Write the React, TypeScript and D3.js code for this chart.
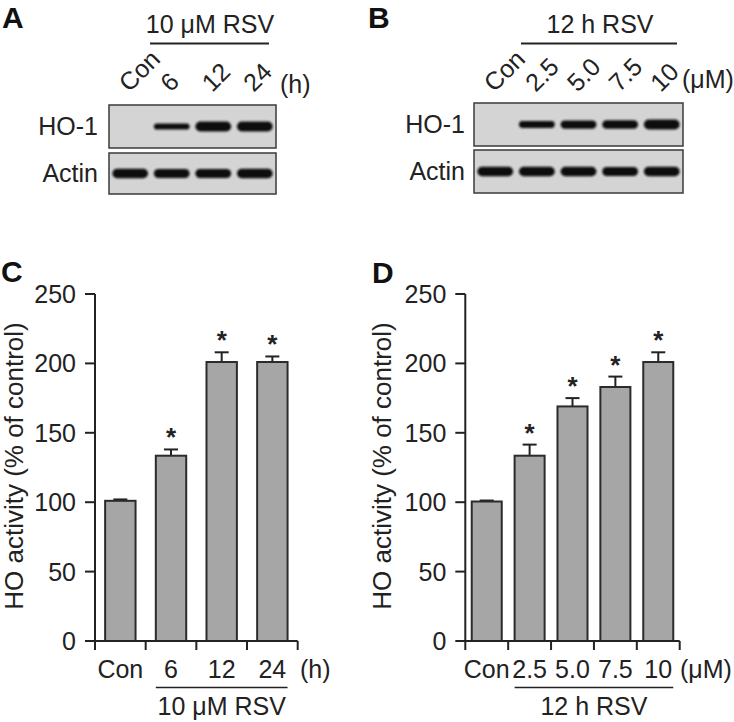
import React from "react";
import * as d3 from "d3";

// ---------- Data ----------
const timeLanes = ["Con", "6", "12", "24"];
const doseLanes = ["Con", "2.5", "5.0", "7.5", "10"];

// Western blot band intensities (0 = none, 1 = strongest)
const blotA_HO1 = [0, 0.45, 1, 1];
const blotA_Actin = [0.9, 0.85, 0.85, 0.9];
const blotB_HO1 = [0, 0.55, 0.75, 0.8, 1];
const blotB_Actin = [0.9, 0.9, 0.9, 0.85, 0.9];

// HO activity (% of control)
const activityTime = [101, 133.5, 201, 201];
const activityTimeErr = [1, 4.5, 7, 4];
const activityTimeSig = [false, true, true, true];

const activityDose = [100.5, 133.5, 169, 183, 201];
const activityDoseErr = [0.7, 8, 6, 7.5, 7];
const activityDoseSig = [false, true, true, true, true];

const yTicks = [0, 50, 100, 150, 200, 250];

const FONT = "'Liberation Sans', Arial, Helvetica, sans-serif";
const INK = "#222";

// ---------- Blot ----------
function Blot({ x0, x1, y0, y1, vals, label, labelX, maxThick, minThick }) {
  const lane = d3.scaleBand<number>().domain(d3.range(vals.length)).range([x0, x1]).paddingInner(0.14).paddingOuter(0.08);
  const cy = (y0 + y1) / 2;
  return (
    <g>
      <rect x={x0} y={y0} width={x1 - x0} height={y1 - y0} fill="#d4d4d4" stroke="#3a3a3a" strokeWidth={1.5} />
      {vals.map((v, i) => {
        if (v <= 0) return null;
        const th = minThick + (maxThick - minThick) * v;
        return (
          <rect
            key={i}
            x={lane(i)}
            y={cy - th / 2}
            width={lane.bandwidth()}
            height={th}
            rx={th / 2}
            fill="#111"
            filter="url(#bandBlur)"
          />
        );
      })}
      <text x={labelX} y={cy} dy="0.35em" textAnchor="end" fontSize={25} fill={INK} fontFamily={FONT}>
        {label}
      </text>
    </g>
  );
}

function LaneLabels({ x0, x1, n, labels, unit, unitX, unitY }) {
  const lane = d3.scaleBand<number>().domain(d3.range(n)).range([x0, x1]).paddingInner(0.14).paddingOuter(0.08);
  return (
    <g fontFamily={FONT} fontSize={25} fill={INK}>
      {labels.map((l, i) => {
        const cx = (lane(i) as number) + lane.bandwidth() / 2 - 1;
        return (
          <text key={i} transform={`translate(${cx},93) rotate(-45)`}>
            {l}
          </text>
        );
      })}
      <text x={unitX} y={unitY} fontSize={25}>
        {unit}
      </text>
    </g>
  );
}

// ---------- Bar panel ----------
function BarPanel({ axisX, axisEnd, cats, vals, errs, sig, pad, unit, unitX, groupLabel, title, titleX }) {
  const y = d3.scaleLinear().domain([0, 250]).range([641, 294]);
  const x = d3.scaleBand<string>().domain(cats).range([axisX, axisEnd]).paddingInner(pad).paddingOuter(pad / 2);
  const step = x.step();
  const bw = x.bandwidth();
  const y0 = y(0);
  const firstTreated = x(cats[1]) as number;
  const lastTreated = (x(cats[cats.length - 1]) as number) + bw;
  return (
    <g fontFamily={FONT} fill={INK}>
      {cats.map((c, i) => {
        const bx = x(c) as number;
        const top = y(vals[i]);
        const et = y(vals[i] + errs[i]);
        const cx = bx + bw / 2;
        return (
          <g key={c}>
            <line x1={cx} x2={cx} y1={top} y2={et} stroke={INK} strokeWidth={2} />
            <line x1={cx - 7} x2={cx + 7} y1={et} y2={et} stroke={INK} strokeWidth={2} />
            <rect x={bx} y={top} width={bw} height={y0 - top} fill="#a6a6a6" stroke="#2b2b2b" strokeWidth={2} />
            {sig[i] && (
              <text x={cx} y={et - 3} textAnchor="middle" fontSize={26} fontWeight="bold">
                *
              </text>
            )}
            <text x={cx} y={678} textAnchor="middle" fontSize={25}>
              {c}
            </text>
          </g>
        );
      })}
      <line x1={axisX} x2={axisX} y1={y(250)} y2={y0} stroke={INK} strokeWidth={2} />
      {yTicks.map((t) => (
        <g key={t}>
          <line x1={axisX - 10} x2={axisX} y1={y(t)} y2={y(t)} stroke={INK} strokeWidth={2} />
          <text x={axisX - 19} y={y(t)} dy="0.36em" textAnchor="end" fontSize={25}>
            {t}
          </text>
        </g>
      ))}
      <line x1={axisX - 1} x2={axisEnd} y1={y0} y2={y0} stroke={INK} strokeWidth={2} />
      {d3.range(cats.length + 1).map((i) => (
        <line key={i} x1={axisX + i * step} x2={axisX + i * step} y1={y0} y2={y0 + 9} stroke={INK} strokeWidth={2} />
      ))}
      <text x={unitX} y={678} fontSize={25}>
        {unit}
      </text>
      <line x1={firstTreated} x2={lastTreated} y1={687.5} y2={687.5} stroke={INK} strokeWidth={1.5} />
      <text x={(firstTreated + lastTreated) / 2} y={715} textAnchor="middle" fontSize={25}>
        {groupLabel}
      </text>
      <text transform={`translate(${titleX},466) rotate(-90)`} dy="0.35em" textAnchor="middle" fontSize={26}>
        {title}
      </text>
    </g>
  );
}

export default function App() {
  return (
    <div style={{ position: "absolute", left: 0, top: 0 }}>
      <svg width={734} height={722} style={{ display: "block", background: "#fff" }}>
        <defs>
          <filter id="bandBlur" x="-20%" y="-100%" width="140%" height="300%">
            <feGaussianBlur stdDeviation="1.1" />
          </filter>
        </defs>
        <g fontFamily={FONT} fontWeight="bold" fontSize={30} fill="#111">
          <text x={2} y={28}>A</text>
          <text x={368} y={28}>B</text>
          <text x={1} y={282}>C</text>
          <text x={372} y={283}>D</text>
        </g>

        {/* Panel A */}
        <g fontFamily={FONT} fill={INK}>
          <text x={210} y={33} textAnchor="middle" fontSize={25}>10 μM RSV</text>
          <line x1={150} x2={269} y1={43.5} y2={43.5} stroke={INK} strokeWidth={1.8} />
        </g>
        <LaneLabels x0={109} x1={276} n={4} labels={timeLanes} unit="(h)" unitX={280} unitY={93} />
        <Blot x0={109} x1={276} y0={105} y1={148} vals={blotA_HO1} label="HO-1" labelX={98} maxThick={10} minThick={3} />
        <Blot x0={109} x1={276} y0={153} y1={194} vals={blotA_Actin} label="Actin" labelX={98} maxThick={10} minThick={3} />

        {/* Panel B */}
        <g fontFamily={FONT} fill={INK}>
          <text x={600} y={33} textAnchor="middle" fontSize={25}>12 h RSV</text>
          <line x1={521} x2={677} y1={43.5} y2={43.5} stroke={INK} strokeWidth={1.8} />
        </g>
        <LaneLabels x0={474} x1={683} n={5} labels={doseLanes} unit="(μM)" unitX={682} unitY={88} />
        <Blot x0={474} x1={683} y0={103} y1={146} vals={blotB_HO1} label="HO-1" labelX={465} maxThick={10} minThick={3} />
        <Blot x0={474} x1={683} y0={150} y1={193} vals={blotB_Actin} label="Actin" labelX={465} maxThick={10} minThick={3} />

        {/* Panel C */}
        <BarPanel
          axisX={95}
          axisEnd={297.7}
          cats={timeLanes}
          vals={activityTime}
          errs={activityTimeErr}
          sig={activityTimeSig}
          pad={0.4}
          unit="(h)"
          unitX={300}
          groupLabel="10 μM RSV"
          title="HO activity (% of control)"
          titleX={14}
        />
        {/* Panel D */}
        <BarPanel
          axisX={465.3}
          axisEnd={679.7}
          cats={doseLanes}
          vals={activityDose}
          errs={activityDoseErr}
          sig={activityDoseSig}
          pad={0.3}
          unit="(μM)"
          unitX={680}
          groupLabel="12 h RSV"
          title="HO activity (% of control)"
          titleX={382}
        />
      </svg>
    </div>
  );
}
